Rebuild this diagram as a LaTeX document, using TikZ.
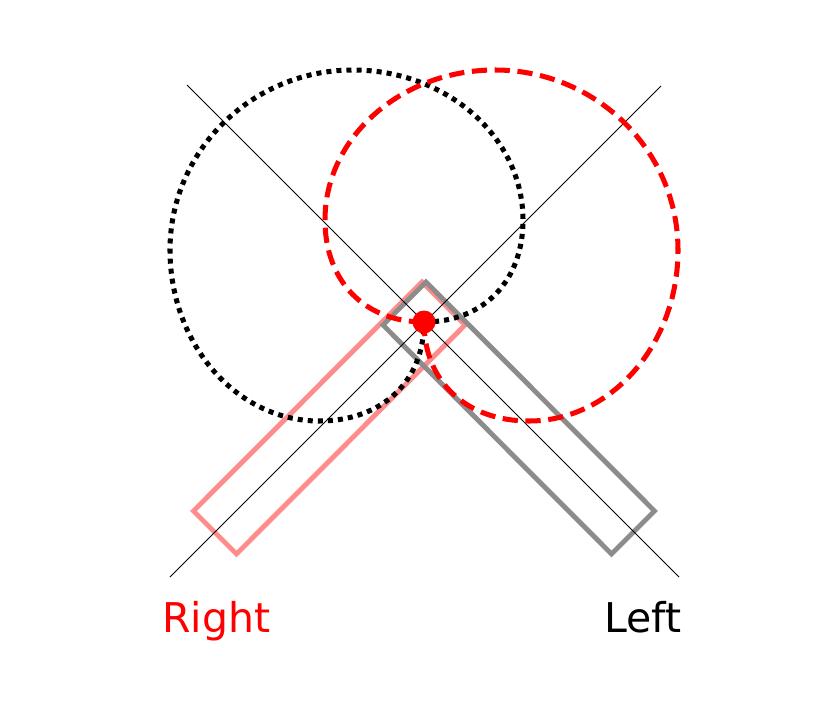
\documentclass[tikz,border=0pt]{standalone}
\usepackage{fontspec}
\newfontfamily\labelfont{DejaVu Sans}
\definecolor{boxpink}{RGB}{255,140,140}
\definecolor{boxgray}{RGB}{140,140,140}
\begin{document}
\begin{tikzpicture}[x=0.03cm, y=-0.03cm,
	axis/.style = {draw=black, line width=0.8pt},
	arm/.style = {line width=4.2pt, line join=miter},
	rightpath/.style = {draw=red, line width=4.3pt, dash pattern=on 13pt off 6.5pt},
	leftpath/.style = {draw=black, line width=4.3pt, dash pattern=on 4.3pt off 4.3pt},
	every node/.style = {font=\labelfont\fontsize{35}{40}\selectfont, inner sep=0pt}]
	\fill[white] (0,0) rectangle (840,700);
	\useasboundingbox (0,0) rectangle (840,700);
	% end points of the two axes
	\coordinate (a1) at (187,85);
	\coordinate (a2) at (679,577);
	\coordinate (b1) at (661,86);
	\coordinate (b2) at (170,577);
	\coordinate (p) at (424,322);
	% arms
	\draw[arm, boxpink] (422,282) -- (465,325) -- (236.5,554) -- (193.5,511) -- cycle;
	\draw[arm, boxgray] (426,282) -- (383,325) -- (611.5,554) -- (654.5,511) -- cycle;
	\draw[axis] (a1) -- (a2);
	\draw[axis] (b1) -- (b2);
	% reach of each side
	\draw[leftpath] (p) .. controls (483.4,322) and (523,281.2) .. (523,220)
		.. controls (523,137.2) and (446.8,70) .. (353,70)
		.. controls (252,70) and (170,150.6) .. (170,250)
		.. controls (170,344.4) and (236.8,421) .. (319,421)
		.. controls (382,421) and (424,381.4) .. (p);
	\draw[rightpath] (p) .. controls (364.6,322) and (325,281.2) .. (325,220)
		.. controls (325,137.2) and (401.2,70) .. (495,70)
		.. controls (596,70) and (678,150.6) .. (678,250)
		.. controls (678,344.4) and (611.2,421) .. (529,421)
		.. controls (466,421) and (424,381.4) .. (p);
	\fill[red] (p) circle (11.5);
	\node[anchor=base west, text=red] (right) at (162,632) {Right};
	\node[anchor=base east] (left) at (682,632) {Left};
\end{tikzpicture}
\end{document}
